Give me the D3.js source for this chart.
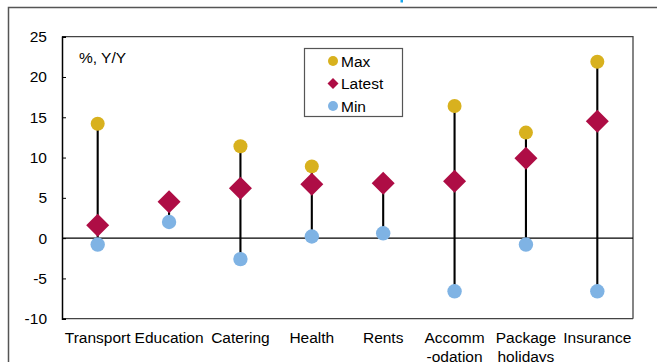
<!DOCTYPE html>
<html><head><meta charset="utf-8">
<script src="https://cdn.jsdelivr.net/npm/d3@7"></script>
<style>body{margin:0;background:#fff}svg{display:block;font-family:"Liberation Sans",Arial,sans-serif}</style>
</head><body>
<svg id="c" width="657" height="362"></svg>
<script>
const categories = ["Transport","Education","Catering","Health","Rents","Accomm\n-odation","Package\nholidays","Insurance"];
const maxVals    = [14.2, 4.5, 11.4, 8.9, 6.9, 16.4, 13.1, 21.9];
const latestVals = [1.6, 4.5, 6.2, 6.7, 6.8, 7.05, 9.9, 14.5];
const minVals    = [-0.8, 2.0, -2.6, 0.2, 0.6, -6.6, -0.8, -6.6];
const yTicks = [-10,-5,0,5,10,15,20,25];
const seriesNames = ["Max","Latest","Min"];

const colMax = "#D8B11E", colLatest = "#AE0D45", colMin = "#7FB3E4";
const svg = d3.select("#c");
const L = 62, R = 633, T = 36.7, B = 318.7;

// outer frame
svg.append("path").attr("d","M8.5,370 V7.5 H670").attr("fill","none").attr("stroke","#555").attr("stroke-width",1.5);
// tiny fragment of the cut-off title
svg.append("rect").attr("x",400.5).attr("y",0).attr("width",2.5).attr("height",2.5).attr("fill","#18A8EE");

const x = d3.scaleBand().domain(d3.range(categories.length)).range([L,R]);
const y = d3.scaleLinear().domain([-10,25]).range([B,T]);
const cx = i => x(i) + x.bandwidth()/2;

// plot frame top/right/bottom
svg.append("path").attr("d",`M${L},${T} H${R} V${B}`).attr("fill","none").attr("stroke","#444").attr("stroke-width",1.3);
svg.append("line").attr("x1",L).attr("x2",R).attr("y1",B).attr("y2",B).attr("stroke","#444").attr("stroke-width",1.3);

// y axis
const yAxis = svg.append("g").attr("transform",`translate(${L},0)`)
  .call(d3.axisRight(y).tickValues(yTicks).tickSize(4).tickFormat(d => String(d)));
yAxis.select(".domain").attr("stroke","#000").attr("stroke-width",1.5);
yAxis.selectAll(".tick line").attr("stroke","#000");
yAxis.selectAll(".tick text").attr("x",-15).attr("text-anchor","end").attr("font-size","15.5px").attr("fill","#000").attr("font-family","Liberation Sans, Arial, sans-serif");

// zero line
svg.append("line").attr("x1",L).attr("x2",R).attr("y1",y(0)).attr("y2",y(0)).attr("stroke","#000").attr("stroke-width",1.2);

// category labels
const xl = svg.append("g");
categories.forEach((c,i)=>{
  const t = xl.append("text").attr("x",cx(i)).attr("y",342.5).attr("text-anchor","middle").attr("font-size","15.5px").attr("fill","#000");
  c.split("\n").forEach((s,k)=>t.append("tspan").attr("x",cx(i)).attr("dy",k?19.5:0).text(s));
});

// range lines
svg.append("g").selectAll("line").data(categories).join("line")
  .attr("x1",(d,i)=>cx(i)).attr("x2",(d,i)=>cx(i))
  .attr("y1",(d,i)=>y(maxVals[i])).attr("y2",(d,i)=>y(minVals[i]))
  .attr("stroke","#000").attr("stroke-width",2.1);

svg.append("g").selectAll("circle").data(maxVals).join("circle")
  .attr("cx",(d,i)=>cx(i)).attr("cy",d=>y(d)).attr("r",7).attr("fill",colMax);
svg.append("g").selectAll("circle").data(minVals).join("circle")
  .attr("cx",(d,i)=>cx(i)).attr("cy",d=>y(d)).attr("r",7.2).attr("fill",colMin);
const dia = s => `M0,${-s} L${s},0 L0,${s} L${-s},0 Z`;
svg.append("g").selectAll("path").data(latestVals).join("path")
  .attr("transform",(d,i)=>`translate(${cx(i)},${y(d)})`).attr("d",dia(11.5)).attr("fill",colLatest);

// axis label
svg.append("text").attr("x",79).attr("y",62.5).attr("font-size","15.5px").text("%, Y/Y");

// legend
const lg = svg.append("g");
lg.append("rect").attr("x",304.5).attr("y",48.5).attr("width",98).attr("height",68).attr("fill","#fff").attr("stroke","#555").attr("stroke-width",1.2);
const rows = [61, 83.5, 106];
seriesNames.forEach((n,k)=>{
  const g = lg.append("g").attr("transform",`translate(333,${rows[k]})`);
  if(k===1) g.append("path").attr("d",dia(5.5)).attr("fill",colLatest);
  else g.append("circle").attr("r",5).attr("fill",k===0?colMax:colMin);
  lg.append("text").attr("x",341).attr("y",rows[k]+5.5).attr("font-size","15.5px").text(n);
});
</script>
</body></html>
